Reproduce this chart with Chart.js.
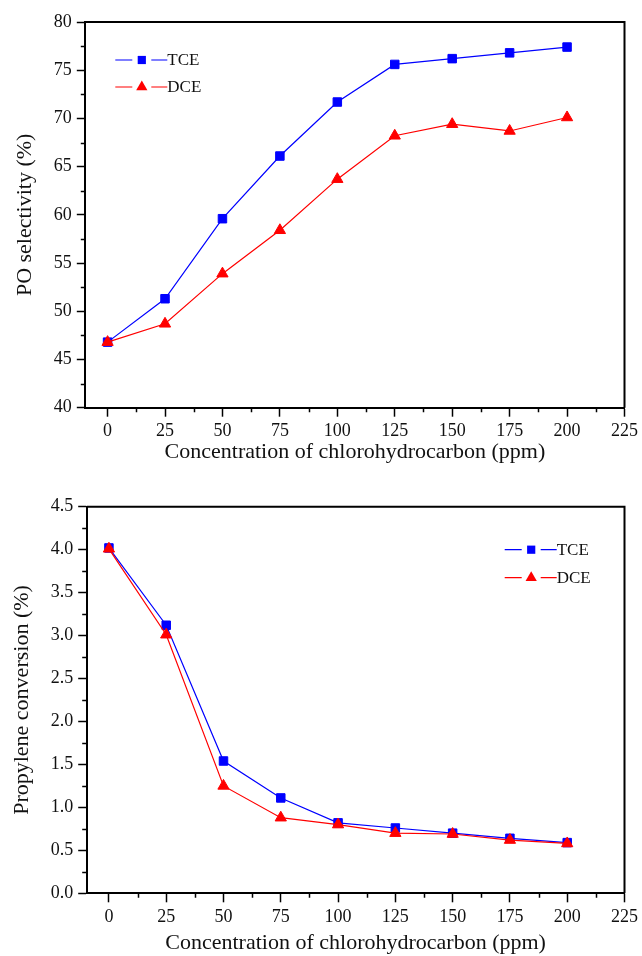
<!DOCTYPE html>
<html>
<head>
<meta charset="utf-8">
<script src="https://cdn.jsdelivr.net/npm/chart.js@4.4.0/dist/chart.umd.min.js"></script>
<style>
  body { margin: 0; background: #fff; }
  canvas { display: block; }
</style>
</head>
<body>
<canvas id="selectivity-chart" width="642" height="478"></canvas>
<canvas id="conversion-chart" width="642" height="478"></canvas>
<script>
// DATA
const concentrations = [0, 25, 50, 75, 100, 125, 150, 175, 200]
const seriesNames = ["TCE", "DCE"]

const selectivityTCE = [46.8, 51.3, 59.6, 66.1, 71.7, 75.6, 76.2, 76.8, 77.4]
const selectivityDCE = [46.8, 48.7, 53.9, 58.4, 63.7, 68.2, 69.4, 68.7, 70.1]

const conversionTCE = [4.02, 3.12, 1.54, 1.11, 0.82, 0.76, 0.7, 0.64, 0.59]
const conversionDCE = [4.01, 3.01, 1.25, 0.88, 0.8, 0.7, 0.69, 0.62, 0.58]

const xTicks = [0, 25, 50, 75, 100, 125, 150, 175, 200, 225]
const selectivityTicks = [40, 45, 50, 55, 60, 65, 70, 75, 80]
const conversionTicks = [0, 0.5, 1, 1.5, 2, 2.5, 3, 3.5, 4, 4.5]

const xTitle = "Concentration of chlorohydrocarbon (ppm)"

// SETTINGS
const FONT = "'Liberation Serif', 'Times New Roman', serif"
const BLUE = "#0000ff"
const RED = "#ff0000"

Chart.defaults.font.family = FONT
Chart.defaults.color = "#111"

function midpoints(list) {
  return list.slice(1).map((v, i) => (v + list[i]) / 2)
}

// frame on top/right + minor ticks
const frameAndMinorTicks = {
  id: "frameAndMinorTicks",
  afterDraw(chart) {
    const { ctx, chartArea: a, scales } = chart
    ctx.save()
    ctx.strokeStyle = "#000"
    ctx.lineWidth = 2
    ctx.beginPath()
    ctx.moveTo(a.left, a.top)
    ctx.lineTo(a.right, a.top)
    ctx.lineTo(a.right, a.bottom)
    ctx.stroke()

    ctx.lineWidth = 1.5
    ctx.beginPath()
    midpoints(scales.x.ticks.map((t) => t.value)).forEach((v) => {
      const px = Math.round(scales.x.getPixelForValue(v)) + 0.5
      ctx.moveTo(px, a.bottom)
      ctx.lineTo(px, a.bottom + 4.5)
    })
    midpoints(scales.y.ticks.map((t) => t.value)).forEach((v) => {
      const py = Math.round(scales.y.getPixelForValue(v)) + 0.5
      ctx.moveTo(a.left, py)
      ctx.lineTo(a.left - 4.5, py)
    })
    ctx.stroke()
    ctx.restore()
  },
}

// legend drawn as line - marker - line + label
function drawMarker(ctx, style, x, y, r) {
  ctx.beginPath()
  if (style === "rect") {
    const s = r * Math.SQRT1_2
    ctx.rect(x - s, y - s, s * 2, s * 2)
  } else {
    ctx.moveTo(x, y - r)
    ctx.lineTo(x + r * Math.sin(Math.PI / 3), y + r / 2)
    ctx.lineTo(x - r * Math.sin(Math.PI / 3), y + r / 2)
    ctx.closePath()
  }
  ctx.fill()
}

const lineLegend = {
  id: "lineLegend",
  afterDraw(chart, args, opts) {
    const { ctx, chartArea: a } = chart
    ctx.save()
    chart.data.datasets.forEach((ds, i) => {
      const x = a.left + opts.x
      const y = a.top + opts.y + i * opts.gap
      ctx.strokeStyle = ds.borderColor
      ctx.fillStyle = ds.backgroundColor
      ctx.lineWidth = 1.2
      ctx.beginPath()
      ctx.moveTo(x, y)
      ctx.lineTo(x + 17, y)
      ctx.moveTo(x + 36, y)
      ctx.lineTo(x + 52, y)
      ctx.stroke()
      drawMarker(ctx, ds.pointStyle, x + 26.5, y, ds.pointStyle === "rect" ? 5.8 : 6.5)
      ctx.fillStyle = "#111"
      ctx.font = "17px " + FONT
      ctx.textBaseline = "middle"
      ctx.textAlign = "left"
      ctx.fillText(ds.label, x + 52, y + 1)
    })
    ctx.restore()
  },
}

function makeChart(id, cfg) {
  const ctx = document.getElementById(id).getContext("2d")
  return new Chart(ctx, {
    type: "line",
    data: {
      datasets: [
        {
          label: seriesNames[0],
          data: concentrations.map((c, i) => ({ x: c, y: cfg.tce[i] })),
          borderColor: BLUE,
          backgroundColor: BLUE,
          pointBackgroundColor: BLUE,
          pointBorderColor: BLUE,
          pointStyle: "rect",
          pointRadius: 6,
          pointBorderWidth: 1,
          borderWidth: 1.2,
          order: 2,
        },
        {
          label: seriesNames[1],
          data: concentrations.map((c, i) => ({ x: c, y: cfg.dce[i] })),
          borderColor: RED,
          backgroundColor: RED,
          pointBackgroundColor: RED,
          pointBorderColor: RED,
          pointStyle: "triangle",
          pointRadius: 6.5,
          pointBorderWidth: 1,
          borderWidth: 1.2,
          order: 1,
        },
      ],
    },
    options: {
      responsive: false,
      animation: false,
      events: [],
      layout: {
        padding: { top: cfg.top, right: cfg.right, left: 0, bottom: 0 },
      },
      scales: {
        x: {
          type: "linear",
          min: -9.7,
          max: 225,
          afterBuildTicks: (scale) => {
            scale.ticks = xTicks.map((v) => ({ value: v }))
          },
          afterFit: (scale) => {
            scale.height = cfg.xHeight
          },
          grid: {
            drawOnChartArea: false,
            drawTicks: true,
            tickLength: 9,
            tickWidth: 1.5,
            tickColor: "#000",
          },
          border: { display: true, color: "#000", width: 2 },
          ticks: {
            autoSkip: false,
            maxRotation: 0,
            padding: 4,
            font: { size: 18 },
          },
          title: {
            display: true,
            text: xTitle,
            font: { size: 22 },
            color: "#111",
            padding: { top: 0, bottom: cfg.xTitlePad },
          },
        },
        y: {
          type: "linear",
          min: cfg.yTicks[0],
          max: cfg.yTicks[cfg.yTicks.length - 1],
          afterBuildTicks: (scale) => {
            scale.ticks = cfg.yTicks.map((v) => ({ value: v }))
          },
          afterFit: (scale) => {
            scale.width = cfg.yWidth
          },
          grid: {
            drawOnChartArea: false,
            drawTicks: true,
            tickLength: 8.5,
            tickWidth: 1.5,
            tickColor: "#000",
          },
          border: { display: true, color: "#000", width: 2 },
          ticks: {
            padding: 5,
            font: { size: 18 },
            callback: cfg.yFormat,
          },
          title: {
            display: true,
            text: cfg.yTitle,
            font: { size: 22 },
            color: "#111",
            padding: { top: cfg.yTitlePad, bottom: 0 },
          },
        },
      },
      plugins: {
        legend: { display: false },
        tooltip: { enabled: false },
        lineLegend: cfg.legend,
      },
    },
    plugins: [frameAndMinorTicks, lineLegend],
  })
}

makeChart("selectivity-chart", {
  tce: selectivityTCE,
  dce: selectivityDCE,
  yTicks: selectivityTicks,
  yTitle: "PO selectivity (%)",
  yFormat: (v) => v,
  top: 22,
  right: 15.3,
  xHeight: 70.3,
  yWidth: 85.3,
  xTitlePad: 13,
  yTitlePad: 12,
  legend: { x: 30, y: 38, gap: 27 },
})

makeChart("conversion-chart", {
  tce: conversionTCE,
  dce: conversionDCE,
  yTicks: conversionTicks,
  yTitle: "Propylene conversion (%)",
  yFormat: (v) => Number(v).toFixed(1),
  top: 28.7,
  right: 16.3,
  xHeight: 62.7,
  yWidth: 86.7,
  xTitlePad: 0,
  yTitlePad: 9,
  legend: { x: 418, y: 43, gap: 28 },
})
</script>
</body>
</html>
